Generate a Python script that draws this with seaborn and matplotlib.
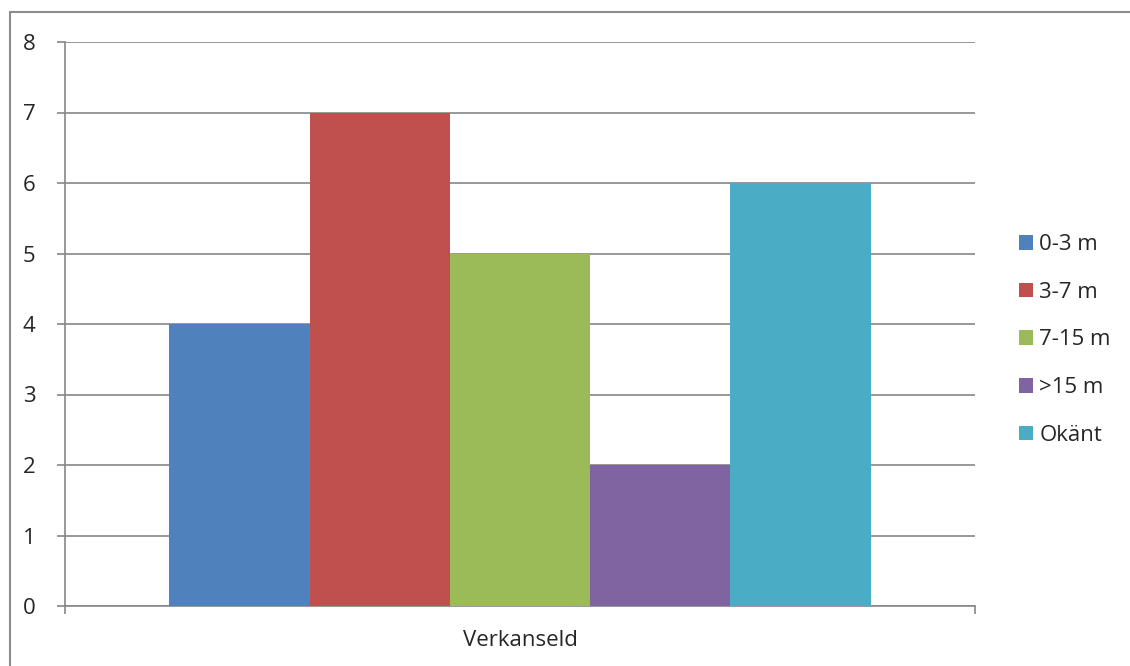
import matplotlib
matplotlib.use("Agg")
import matplotlib.pyplot as plt
from matplotlib.lines import Line2D
import seaborn as sns
import pandas as pd

categories = ["Verkanseld"]
series = ["0-3 m", "3-7 m", "7-15 m", ">15 m", "Okänt"]
values = [4, 7, 5, 2, 6]
colors = ["#4F81BD", "#C0504D", "#9BBB59", "#8064A2", "#4BACC6"]
yticks = [0, 1, 2, 3, 4, 5, 6, 7, 8]

sns.set_theme(style="white")
plt.rcParams["font.family"] = ["Open Sans", "DejaVu Sans"]

df = pd.DataFrame({"cat": categories * len(series), "serie": series, "val": values})

fig = plt.figure(figsize=(11.3, 6.66), dpi=100)
ax = fig.add_axes([65/1130, 1-606/666, (975-65)/1130, (606-42)/666])

sns.barplot(data=df, x="cat", y="val", hue="serie", hue_order=series,
            palette=colors, width=0.771, gap=0, saturation=1, ax=ax,
            edgecolor="none", linewidth=0, zorder=3)

fs = 16
gc = "#868686"
ax.set_ylim(0, 8)
ax.set_xlim(-0.5, 0.5)
ax.set_yticks(yticks)
ax.set_yticklabels([str(t) for t in yticks], fontsize=fs)
ax.yaxis.grid(True, color=gc, linewidth=1.2, zorder=0)
ax.set_axisbelow(True)
for s in ["top", "right"]:
    ax.spines[s].set_visible(False)
for s in ["left", "bottom"]:
    ax.spines[s].set_color(gc)
    ax.spines[s].set_linewidth(1.2)
ax.tick_params(axis="y", which="major", left=True, length=6, color=gc, width=1.2, pad=20)
ax.tick_params(axis="x", which="major", bottom=False, labelsize=fs, pad=11)
ax.set_xticks([-0.5, 0.5], minor=True)
ax.tick_params(axis="x", which="minor", bottom=True, length=6, color=gc, width=1.2)
ax.set_xlabel("")
ax.set_ylabel("")
for lab in ax.get_yticklabels():
    lab.set_horizontalalignment("center")

leg = ax.legend(loc="center left", bbox_to_anchor=(1019/1130, 1-340/666),
                bbox_transform=fig.transFigure, frameon=False, fontsize=fs,
                handlelength=0.62, handleheight=0.62, handletextpad=0.3,
                labelspacing=1.2, borderaxespad=0, borderpad=0)

# outer chart border (top and left visible)
fig.add_artist(Line2D([9.5/1130, 1.0], [1-11.5/666, 1-11.5/666], color="#8c8c8c", linewidth=1.5, transform=fig.transFigure))
fig.add_artist(Line2D([9.5/1130, 9.5/1130], [0.0, 1-11.5/666], color="#8c8c8c", linewidth=1.5, transform=fig.transFigure))

fig.savefig("out.png", dpi=100, facecolor="white")
